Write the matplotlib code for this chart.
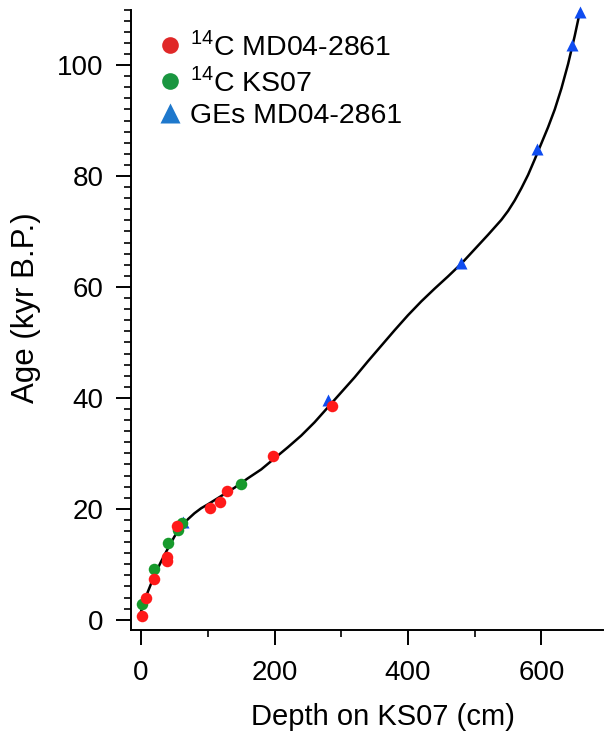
import matplotlib
matplotlib.use("Agg")
import matplotlib.pyplot as plt
from matplotlib.lines import Line2D
from matplotlib.ticker import MultipleLocator

plt.rcParams["font.family"] = ["Liberation Sans", "DejaVu Sans"]
plt.rcParams["mathtext.fontset"] = "custom"
plt.rcParams["mathtext.rm"] = "Liberation Sans"

# 14C dates on MD04-2861
mdc_depth = [1, 7.5, 20, 38.4, 38.4, 53.5, 103.4, 118, 128.2, 198, 285.7]
mdc_age = [0.7, 3.9, 7.4, 10.6, 11.4, 16.9, 20.2, 21.3, 23.2, 29.5, 38.6]

# 14C dates on KS07
ks_depth = [1, 20, 40, 56, 61, 150]
ks_age = [2.9, 9.2, 13.9, 16.2, 17.4, 24.5]

# graphic equivalences with MD04-2861
ge_depth = [63, 280, 479.4, 594, 646, 657.7]
ge_age = [17.6, 39.6, 64.4, 84.9, 103.7, 109.6]

# age model
model_depth = [0, 10, 20, 30, 40, 50, 60, 70, 80, 90, 100, 120, 140, 160, 180,
               200, 220, 240, 260, 280, 300, 320, 340, 360, 380, 400, 420, 440,
               460, 480, 500, 520, 540, 550, 560, 570, 580, 590, 600, 610, 620,
               630, 640, 650, 658]
model_age = [1.5, 5.0, 8.0, 10.5, 12.8, 15.0, 16.8, 18.1, 19.2, 20.1, 20.8,
             22.3, 23.8, 25.5, 27.1, 29.1, 31.1, 33.2, 35.6, 38.3, 41.0, 43.7,
             46.6, 49.4, 52.2, 54.9, 57.4, 59.7, 61.9, 64.2, 66.8, 69.4, 72.1,
             73.7, 75.6, 77.8, 80.2, 83.0, 85.9, 88.8, 92.0, 95.8, 100.2, 105.3,
             109.8]

red = "#ff1a1a"
green = "#179a2c"
blue = "#0f4cf0"

fig = plt.figure(figsize=(6.04, 7.40), dpi=100)
ax = fig.add_axes([0.217, 0.149, 0.781, 0.838])

ax.plot(model_depth, model_age, color="black", lw=1.8, zorder=2)
ax.plot(ge_depth, ge_age, "^", color=blue, ms=8.5, mec="none", zorder=3, clip_on=False)
ax.plot(ks_depth, ks_age, "o", color=green, ms=8.3, mec="none", zorder=4, clip_on=False)
ax.plot(mdc_depth, mdc_age, "o", color=red, ms=8.3, mec="none", zorder=5, clip_on=False)

ax.set_xlim(-15, 692)
ax.set_ylim(-1.8, 110)

ax.xaxis.set_major_locator(MultipleLocator(200))
ax.xaxis.set_minor_locator(MultipleLocator(100))
ax.yaxis.set_major_locator(MultipleLocator(20))
ax.yaxis.set_minor_locator(MultipleLocator(2))

for side in ("top", "right"):
    ax.spines[side].set_visible(False)
for side in ("left", "bottom"):
    ax.spines[side].set_linewidth(1.4)

ax.tick_params(which="major", direction="out", length=11, width=1.4,
               labelsize=20)
ax.tick_params(which="minor", direction="out", length=5, width=1.2)
ax.tick_params(axis="x", which="major", pad=11)
ax.tick_params(axis="y", which="major", pad=9)

ax.set_xlabel("Depth on KS07 (cm)", fontsize=21)
ax.xaxis.set_label_coords(0.534, -0.118)
ax.set_ylabel("Age (kyr B.P.)", fontsize=22.5)
ax.yaxis.set_label_coords(-0.19, 0.52)

handles = [
    Line2D([], [], ls="none", marker="o", color="#e02828", ms=12, mec="none"),
    Line2D([], [], ls="none", marker="o", color="#1a9640", ms=12, mec="none"),
    Line2D([], [], ls="none", marker="^", color="#1e78cc", ms=14, mec="none"),
]
labels = [r"$^{14}$C MD04-2861", r"$^{14}$C KS07", "GEs MD04-2861"]
ax.legend(handles, labels, loc="upper left", bbox_to_anchor=(0.263, 0.958),
          bbox_transform=fig.transFigure, frameon=False, fontsize=20.5,
          handlelength=0.8, handletextpad=0.3, labelspacing=0.22,
          borderaxespad=0, borderpad=0)

fig.savefig("out.png", dpi=100)
